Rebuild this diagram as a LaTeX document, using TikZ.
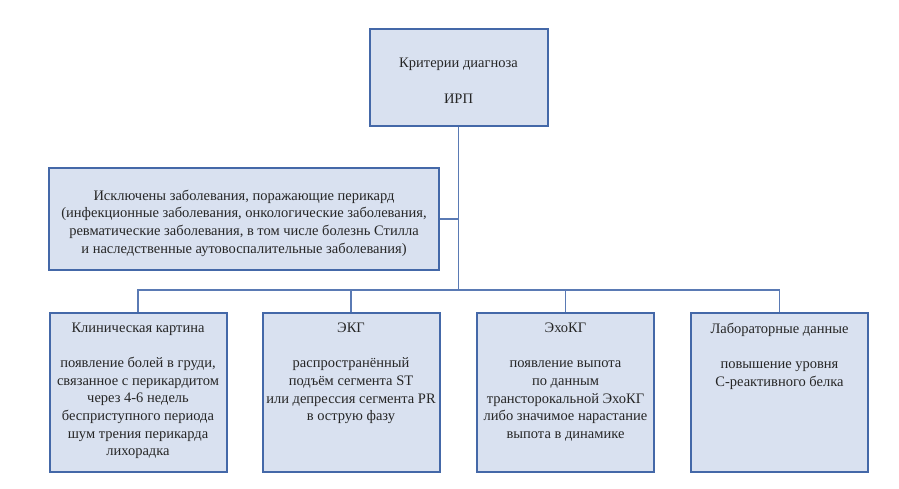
\documentclass[tikz,border=0pt]{standalone}
\usepackage{fontspec}
\setmainfont{Liberation Serif}
\definecolor{boxfill}{HTML}{D9E1F0}
\definecolor{boxline}{HTML}{4468A8}
\definecolor{wirecol}{HTML}{5A7AB4}
\definecolor{ink}{HTML}{262626}
\begin{document}
\begin{tikzpicture}[x=1pt, y=-1pt,
    critbox/.style = {shape=rectangle, draw=boxline, line width=2pt, fill=boxfill, text=ink, inner sep=0pt, font=\fontsize{14.5}{17.6}\selectfont},
    sign/.style = {critbox, minimum width=177pt, minimum height=159pt, anchor=north},
    wire/.style = {draw=wirecol, line width=1.3pt}
  ]
\useasboundingbox (0,0) rectangle (899,489);
\node[critbox, minimum width=178pt, minimum height=97pt] (crit) at (458.5,78)
  {\parbox[t][39pt][t]{176pt}{\centering Критерии диагноза\\[17.6pt]ИРП}};
\node[critbox, minimum width=390pt, minimum height=102pt] (excl) at (244,219)
  {\parbox[t][58pt][t]{388pt}{\centering
   Исключены заболевания, поражающие перикард\\
   (инфекционные заболевания, онкологические заболевания,\\
   ревматические заболевания, в том числе болезнь Стилла\\
   и наследственные аутовоспалительные заболевания)}};
% bottom row
\node[sign] (clin) at (138,312) {\parbox[t][139pt][t]{175pt}{\centering
  Клиническая картина\\[17.6pt]
  появление болей в груди,\\ связанное с перикардитом\\ через 4-6 недель\\
  бесприступного периода\\ шум трения перикарда\\ лихорадка}};
\node[sign] (ecg) at (351,312) {\parbox[t][139pt][t]{175pt}{\centering
  ЭКГ\\[17.6pt]
  распространённый\\ подъём сегмента ST\\ или депрессия сегмента PR\\ в острую фазу}};
\node[sign] (echo) at (565.5,312) {\parbox[t][139pt][t]{175pt}{\centering
  ЭхоКГ\\[17.6pt]
  появление выпота\\ по данным\\ трансторокальной ЭхоКГ\\
  либо значимое нарастание\\ выпота в динамике}};
\node[sign] (lab) at (779.5,312) {\parbox[t][139pt][t]{175pt}{\centering
  Лабораторные данные\\[17.6pt]
  повышение уровня\\ С-реактивного белка}};
% connectors
\coordinate (bus) at (458.5,290);
\draw[wire] (crit.south) -- (bus);
\draw[wire] (excl.east) -- (excl.east -| crit.south);
\foreach \b in {clin,ecg,echo,lab}
  \draw[wire] (bus) -| (\b.north);
\end{tikzpicture}
\end{document}
